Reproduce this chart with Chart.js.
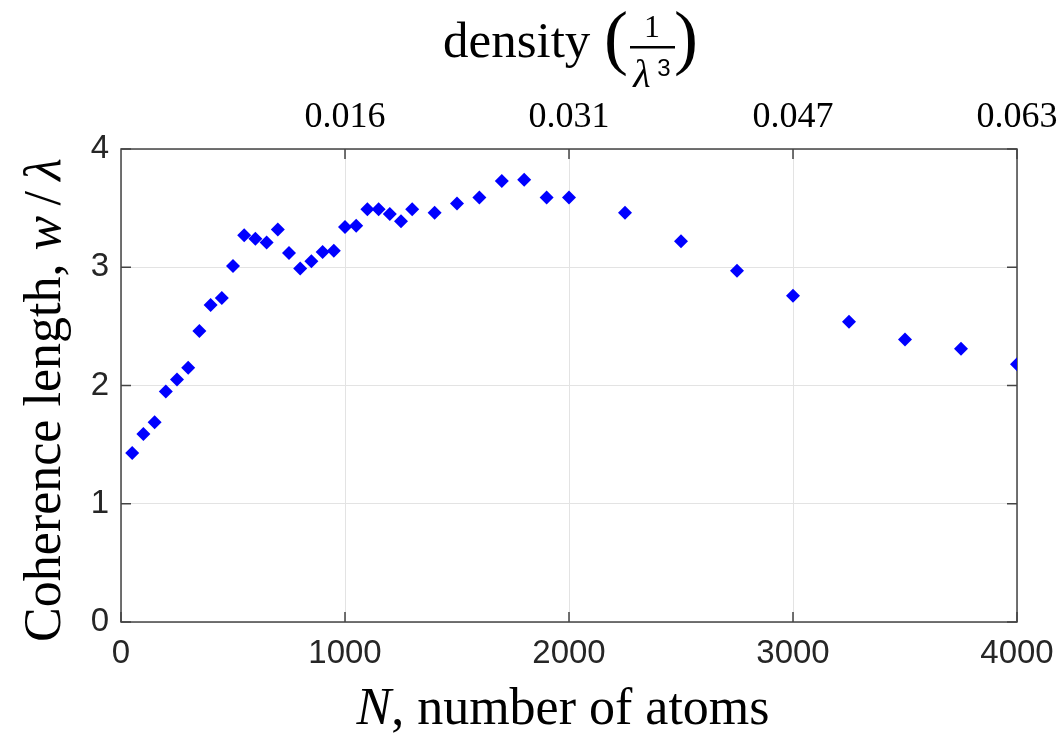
<!DOCTYPE html>
<html>
<head>
<meta charset="utf-8">
<title>Coherence length vs number of atoms</title>
<script src="https://cdn.jsdelivr.net/npm/chart.js@4/dist/chart.umd.min.js"></script>
<style>
    html, body { margin: 0; padding: 0; background: #fff; }
    canvas { display: block; }
</style>
</head>
<body>
<canvas id="coherence-chart" width="1063" height="742"></canvas>
<script>
// number of atoms N
const atomCounts = [50, 100, 150, 200, 250, 300, 350, 400, 450, 500,
    550, 600, 650, 700, 750, 800, 850, 900, 950, 1000,
    1050, 1100, 1150, 1200, 1250, 1300, 1400, 1500, 1600, 1700,
    1800, 1900, 2000, 2250, 2500, 2750, 3000, 3250, 3500, 3750, 4000];

// coherence length w / lambda
const coherenceLength = [1.43, 1.59, 1.69, 1.95, 2.05, 2.15, 2.46, 2.68, 2.74, 3.01,
    3.27, 3.24, 3.21, 3.32, 3.12, 2.99, 3.05, 3.13, 3.14, 3.34,
    3.35, 3.49, 3.49, 3.45, 3.39, 3.49, 3.46, 3.54, 3.59, 3.73,
    3.74, 3.59, 3.59, 3.46, 3.22, 2.97, 2.76, 2.54, 2.39, 2.31, 2.18];

// top axis: density labels placed at these N values
const densityTickN = [1000, 2000, 3000, 4000];
const densityLabels = ['0.016', '0.031', '0.047', '0.063'];

const SERIF = '"Liberation Serif", "Times New Roman", serif';
const SANS = '"Liberation Sans", Arial, sans-serif';
const AXIS_COLOR = '#262626';

// box around the plot with inward tick marks (matlab style)
const frameBox = {
    id: 'frameBox',
    beforeDatasetsDraw(chart) {
        const { ctx, chartArea: a, scales } = chart;
        const len = 10;
        ctx.save();
        ctx.strokeStyle = '#444';
        ctx.lineWidth = 1.5;
        ctx.strokeRect(a.left, a.top, a.right - a.left, a.bottom - a.top);
        ctx.beginPath();
        scales.x.ticks.forEach(t => {
            const px = scales.x.getPixelForValue(t.value);
            ctx.moveTo(px, a.bottom); ctx.lineTo(px, a.bottom - len);
        });
        scales.x2.ticks.forEach(t => {
            const px = scales.x2.getPixelForValue(t.value);
            ctx.moveTo(px, a.top); ctx.lineTo(px, a.top + len);
        });
        scales.y.ticks.forEach(t => {
            const py = scales.y.getPixelForValue(t.value);
            ctx.moveTo(a.left, py); ctx.lineTo(a.left + len, py);
            ctx.moveTo(a.right, py); ctx.lineTo(a.right - len, py);
        });
        ctx.stroke();
        ctx.restore();
    },
    afterDraw(chart) {
        const { ctx } = chart;
        ctx.save();
        ctx.fillStyle = '#000';
        ctx.textBaseline = 'alphabetic';

        // x title: "N, number of atoms"
        let parts = [
            { text: 'N', font: 'italic 52px ' + SERIF },
            { text: ', number of atoms', font: '52px ' + SERIF }
        ];
        drawRun(ctx, parts, 563, 724);

        // y title, rotated
        ctx.save();
        ctx.translate(60, 400);
        ctx.rotate(-Math.PI / 2);
        parts = [
            { text: 'Coherence length, ', font: '52px ' + SERIF },
            { text: 'w', font: 'italic 52px ' + SERIF },
            { text: '\u2009/\u2009', font: '52px ' + SERIF },
            { text: 'λ', font: 'italic 52px ' + SERIF }
        ];
        drawRun(ctx, parts, 0, 0);
        ctx.restore();

        // top title: density (1/λ³)
        ctx.font = '51px ' + SERIF;
        ctx.textAlign = 'left';
        ctx.fillText('density', 443, 57);
        ctx.font = '72px ' + SERIF;
        ctx.fillText('(', 604, 61);
        ctx.fillText(')', 674, 61);
        ctx.fillRect(630, 46, 45, 2.5);
        ctx.font = '32px ' + SERIF;
        ctx.textAlign = 'center';
        ctx.fillText('1', 652, 37);
        ctx.font = 'italic 40px ' + SERIF;
        ctx.fillText('λ', 642, 87);
        ctx.font = '24px ' + SANS;
        ctx.fillText('3', 664, 76);
        ctx.restore();
    }
};

// draws text pieces with different fonts centered on x
function drawRun(ctx, parts, cx, y) {
    let total = 0;
    parts.forEach(p => { ctx.font = p.font; p.w = ctx.measureText(p.text).width; total += p.w; });
    let x = cx - total / 2;
    ctx.textAlign = 'left';
    parts.forEach(p => {
        ctx.font = p.font;
        ctx.fillText(p.text, x, y);
        x += p.w;
    });
}

// fixed axis band size, no extra side padding from end labels
function fixHeight(h) {
    return function(scale) {
        scale.height = h;
        scale.paddingLeft = 0;
        scale.paddingRight = 0;
    };
}

document.addEventListener('DOMContentLoaded', function() {
    const points = atomCounts.map((n, i) => ({ x: n, y: coherenceLength[i] }));
    const ctx = document.getElementById('coherence-chart').getContext('2d');

    new Chart(ctx, {
        type: 'scatter',
        data: {
            datasets: [{
                data: points,
                pointStyle: 'rectRot',
                pointRadius: 7,
                pointHoverRadius: 7,
                backgroundColor: '#0000ff',
                borderColor: '#0000ff',
                borderWidth: 0
            }]
        },
        options: {
            responsive: false,
            animation: false,
            layout: { padding: { left: 0, right: 46, top: 0, bottom: 0 } },
            plugins: {
                legend: { display: false },
                tooltip: { enabled: false }
            },
            scales: {
                x: {
                    type: 'linear',
                    position: 'bottom',
                    min: 0,
                    max: 4000,
                    ticks: {
                        stepSize: 1000,
                        color: AXIS_COLOR,
                        font: { family: SANS, size: 33 },
                        padding: 12,
                        maxRotation: 0,
                        callback: value => String(value)
                    },
                    grid: { color: '#e3e3e3', lineWidth: 1, drawTicks: false },
                    border: { display: false },
                    afterFit: fixHeight(120)
                },
                x2: {
                    type: 'linear',
                    position: 'top',
                    min: 0,
                    max: 4000,
                    afterBuildTicks(scale) {
                        scale.ticks = densityTickN.map(v => ({ value: v }));
                    },
                    ticks: {
                        color: '#000',
                        font: { family: SERIF, size: 36 },
                        padding: 10,
                        maxRotation: 0,
                        callback: (value, index) => densityLabels[index]
                    },
                    grid: { display: false, drawTicks: false },
                    border: { display: false },
                    afterFit: fixHeight(149)
                },
                y: {
                    min: 0,
                    max: 4,
                    ticks: {
                        stepSize: 1,
                        color: AXIS_COLOR,
                        font: { family: SANS, size: 33 },
                        padding: 12
                    },
                    grid: { color: '#e3e3e3', lineWidth: 1, drawTicks: false },
                    border: { display: false },
                    afterFit(scale) { scale.width = 121; }
                }
            }
        },
        plugins: [frameBox]
    });
});
</script>
</body>
</html>
